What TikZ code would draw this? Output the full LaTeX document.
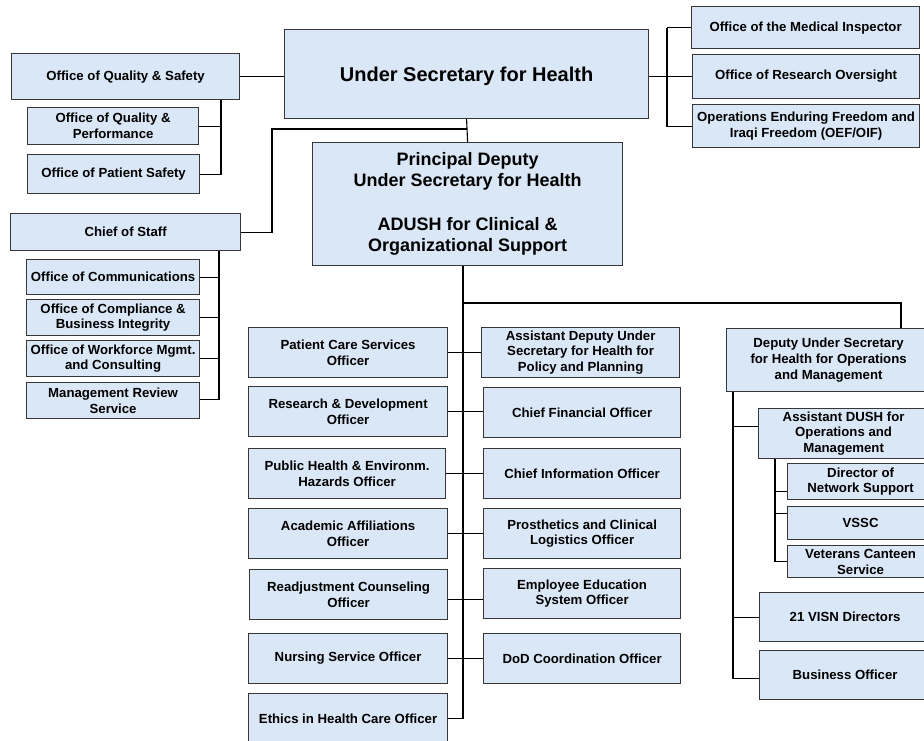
\documentclass[tikz,border=0pt]{standalone}
\usepackage{fontspec}
\setmainfont{Liberation Sans}
\definecolor{boxfill}{RGB}{217,231,246}
\definecolor{boxline}{RGB}{55,55,55}
\newcommand\orgbox[6]{\node[box,minimum width=#4pt,minimum height=#5pt] (#1) at (#2,#3) {#6};}
\begin{document}
\begin{tikzpicture}[x=1pt,y=-1pt,
  box/.style={draw=boxline, line width=1.2pt, fill=boxfill, anchor=north west, inner sep=0pt, align=center, font=\bfseries\fontsize{13.2}{15.8}\selectfont},
  conn/.style={draw=black, line width=1.1pt}]
\useasboundingbox (0,0) rectangle (924,740);
\clip (0,0) rectangle (924,740);
\fill[white] (0,0) rectangle (924,740);

% left upper group
\orgbox{qs}{11}{53}{228}{46}{Office of Quality \& Safety}
\orgbox{qp}{27}{107}{171}{37}{Office of Quality \&\\Performance}
\orgbox{ps}{27}{154}{172}{39}{Office of Patient Safety}

% top centre
\node[box,minimum width=364pt,minimum height=89pt,text depth=0pt,font=\bfseries\fontsize{20}{24}\selectfont] (ush) at (284,29) {Under Secretary for Health};
\node[box,minimum width=310pt,minimum height=123pt,font=\bfseries\fontsize{18}{20.5}\selectfont] (pdush) at (312,142) {Principal Deputy\\Under Secretary for Health\\[24pt]ADUSH for Clinical \&\\Organizational Support};

% top right
\orgbox{mi}{691}{6}{228}{42}{Office of the Medical Inspector}
\orgbox{ro}{692}{54}{227}{44}{Office of Research Oversight}
\orgbox{oef}{692}{104}{227}{43}{Operations Enduring Freedom and\\Iraqi Freedom (OEF/OIF)}

% chief of staff group
\orgbox{cos}{10}{213}{230}{37}{Chief of Staff}
\orgbox{com}{26}{259}{173}{35}{Office of Communications}
\orgbox{cbi}{26}{299}{173}{36}{Office of Compliance \&\\Business Integrity}
\orgbox{wf}{26}{340}{173}{36}{Office of Workforce Mgmt.\\and Consulting}
\orgbox{mrs}{26}{382}{173}{36}{Management Review\\Service}

% central left column
\orgbox{pcs}{248}{327}{199}{50}{Patient Care Services\\Officer}
\orgbox{rd}{248}{386}{199}{50}{Research \& Development\\Officer}
\orgbox{ph}{248}{448}{197}{50}{Public Health \& Environm.\\Hazards Officer}
\orgbox{aa}{248}{508}{199}{50}{Academic Affiliations\\Officer}
\orgbox{rc}{249}{569}{198}{50}{Readjustment Counseling\\Officer}
\orgbox{ns}{248}{633}{199}{50}{Nursing Service Officer}
\orgbox{eth}{248}{693}{199}{50}{Ethics in Health Care Officer}

% central right column
\orgbox{adp}{481}{327}{198}{50}{Assistant Deputy Under\\Secretary for Health for\\Policy and Planning}
\orgbox{cfo}{483}{387}{197}{50}{Chief Financial Officer}
\orgbox{cio}{483}{448}{197}{50}{Chief Information Officer}
\orgbox{pcl}{483}{508}{197}{50}{Prosthetics and Clinical\\Logistics Officer}
\orgbox{ee}{483}{568}{197}{50}{Employee Education\\System Officer}
\orgbox{dod}{483}{633}{197}{50}{DoD Coordination Officer}

% operations branch
\orgbox{dush}{726}{328}{204}{63}{Deputy Under Secretary\\for Health for Operations\\and Management}
\orgbox{adush}{758}{408}{170}{50}{Assistant DUSH for\\Operations and\\Management}
\orgbox{dns}{787}{463}{146}{36}{Director of\\Network Support}
\orgbox{vssc}{787}{506}{146}{33}{VSSC}
\orgbox{vcs}{787}{545}{146}{32}{Veterans Canteen\\Service}
\orgbox{visn}{759}{592}{171}{49}{21 VISN Directors}
\orgbox{bo}{759}{650}{171}{49}{Business Officer}

% bus coordinates
\coordinate (qsbus) at (221,0);
\coordinate (cosbend) at (272,129);
\coordinate (cosbus) at (219,0);
\coordinate (rbus) at (667,0);
\coordinate (cbus) at (463,0);
\coordinate (opsbend) at (901,303);
\coordinate (dbus) at (733,0);
\coordinate (abus) at (775,0);
% shifted attachment points
\coordinate (mrsE) at ([yshift=1pt]mrs.east);
\coordinate (rcE) at ([yshift=-5pt]rc.east);
\coordinate (boW) at ([yshift=-3.5pt]bo.west);
\coordinate (adushW) at ([yshift=7pt]adush.west);
\coordinate (dnsW) at ([yshift=-10pt]dns.west);
\coordinate (vsscW) at ([yshift=9.5pt]vssc.west);

% connectors
\draw[conn] (qs.east) -- (qs.east -| ush.west);
\draw[conn] (qsbus |- qs.south) |- (ps.east);
\draw[conn] (qp.east) -- (qp.east -| qsbus);

\draw[conn] (ush.south) -- (pdush.north);
\draw[conn] (ush.south |- cosbend) -- (cosbend) |- (cos.east);
\draw[conn] (cosbus |- cos.south) |- (mrsE);
\draw[conn] (com.east) -- (com.east -| cosbus);
\draw[conn] (cbi.east) -- (cbi.east -| cosbus);
\draw[conn] (wf.east) -- (wf.east -| cosbus);

\draw[conn] (ro.west -| ush.east) -- (ro.west);
\draw[conn] (rbus |- mi.west) -- (mi.west);
\draw[conn] (rbus |- mi.west) |- (oef.west);

\draw[conn] (cbus |- pdush.south) |- (eth.east);
\draw[conn] (cbus |- opsbend) -- (opsbend) -- (dush.north -| opsbend);
\draw[conn] (pcs.east) -- (adp.west |- pcs.east);
\draw[conn] (rd.east) -- (cfo.west |- rd.east);
\draw[conn] (ph.east) -- (cio.west |- ph.east);
\draw[conn] (aa.east) -- (pcl.west |- aa.east);
\draw[conn] (rcE) -- (ee.west |- rcE);
\draw[conn] (ns.east) -- (dod.west |- ns.east);

\draw[conn] (dbus |- dush.south) |- (boW);
\draw[conn] (dbus |- adushW) -- (adushW);
\draw[conn] (dbus |- visn.west) -- (visn.west);

\draw[conn] (abus |- adush.south) |- (vcs.west);
\draw[conn] (abus |- dnsW) -- (dnsW);
\draw[conn] (abus |- vsscW) -- (vsscW);
\end{tikzpicture}
\end{document}
